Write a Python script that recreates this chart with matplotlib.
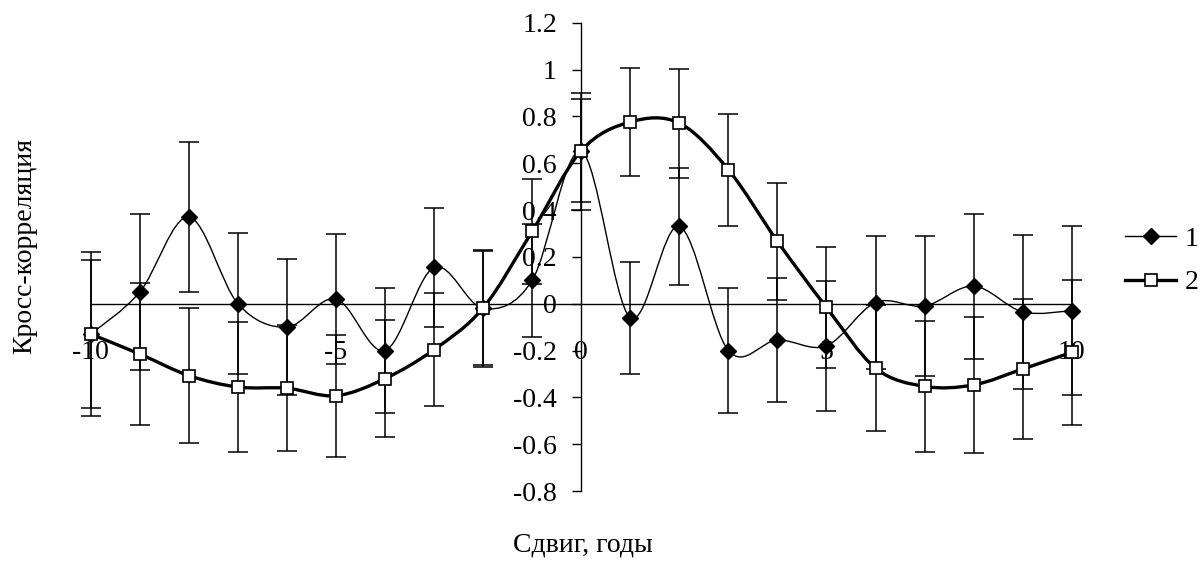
import matplotlib
matplotlib.use("Agg")
import matplotlib.pyplot as plt
import numpy as np
from matplotlib.path import Path
from matplotlib.patches import PathPatch
from matplotlib.lines import Line2D

plt.rcParams['font.family'] = ['Liberation Serif', 'DejaVu Serif']
plt.rcParams['axes.unicode_minus'] = False

# lag, years
lags = list(range(-10, 11))

# series 1 (diamonds, thin line)
corr1 = [-0.13, 0.05, 0.37, 0.0, -0.10, 0.02, -0.20, 0.155, -0.02, 0.10, 0.65,
         -0.06, 0.33, -0.20, -0.155, -0.18, 0.005, -0.01, 0.075, -0.035, -0.03]
err1 = [0.35, 0.335, 0.32, 0.30, 0.29, 0.277, 0.268, 0.255, 0.25, 0.242, 0.25,
        0.24, 0.25, 0.265, 0.265, 0.278, 0.285, 0.30, 0.31, 0.33, 0.36]

# series 2 (squares, thick line)
corr2 = [-0.13, -0.215, -0.307, -0.356, -0.361, -0.393, -0.32, -0.196, -0.018, 0.309, 0.653,
         0.776, 0.771, 0.572, 0.266, -0.016, -0.275, -0.353, -0.347, -0.279, -0.208]
err2 = [0.317, 0.305, 0.29, 0.278, 0.27, 0.26, 0.25, 0.243, 0.245, 0.224, 0.22,
        0.23, 0.233, 0.24, 0.25, 0.26, 0.27, 0.28, 0.29, 0.30, 0.31]

series_names = ['1', '2']
xtick_vals = [-10, -5, 0, 5, 10]
ytick_vals = [-0.8, -0.6, -0.4, -0.2, 0, 0.2, 0.4, 0.6, 0.8, 1, 1.2]
ytick_labels = ['-0.8', '-0.6', '-0.4', '-0.2', '0', '0.2', '0.4', '0.6', '0.8', '1', '1.2']


def smooth_path(xs, ys):
    """Excel-like smoothed line: cubic Bezier segments through every point."""
    p = np.column_stack([xs, ys]).astype(float)
    ext = np.vstack([p[0], p, p[-1]])
    verts = [p[0]]
    codes = [Path.MOVETO]
    for i in range(len(p) - 1):
        p0, p1, p2, p3 = ext[i], ext[i + 1], ext[i + 2], ext[i + 3]
        verts += [p1 + (p2 - p0) / 6, p2 - (p3 - p1) / 6, p2]
        codes += [Path.CURVE4] * 3
    return Path(verts, codes)


fig = plt.figure(figsize=(12.02, 5.64), dpi=100)
ax = fig.add_axes([0.0755, 0.1294, 0.8161, 0.8304])
ax.set_xlim(-10, 10)
ax.set_ylim(-0.8, 1.2)

# error bars
ax.errorbar(lags, corr1, yerr=err1, fmt='none', ecolor='black', elinewidth=1.1,
            capsize=7.5, capthick=1.1, zorder=2, clip_on=False)
ax.errorbar(lags, corr2, yerr=err2, fmt='none', ecolor='black', elinewidth=1.1,
            capsize=7.5, capthick=1.1, zorder=2, clip_on=False)

# smoothed lines
ax.add_patch(PathPatch(smooth_path(lags, corr1), fill=False, lw=1.0,
                       edgecolor='black', zorder=3, clip_on=False))
ax.add_patch(PathPatch(smooth_path(lags, corr2), fill=False, lw=2.4,
                       edgecolor='black', zorder=4, clip_on=False))

# markers
ax.plot(lags, corr1, ls='none', marker='D', ms=8.5, mfc='black', mec='black',
        zorder=5, clip_on=False)
ax.plot(lags, corr2, ls='none', marker='s', ms=8, mfc='white', mec='black',
        mew=1.2, zorder=6, clip_on=False)

# axes crossing at the origin
for s in ['top', 'right']:
    ax.spines[s].set_visible(False)
ax.spines['left'].set_position(('data', 0))
ax.spines['bottom'].set_position(('data', 0))
ax.spines['left'].set_linewidth(1.0)
ax.spines['bottom'].set_linewidth(1.0)

ax.set_yticks(ytick_vals)
ax.set_yticklabels(ytick_labels)
ax.tick_params(axis='y', direction='out', length=6.5, width=1.0, pad=11, labelsize=20)
ax.set_xticks(xtick_vals)
ax.set_xticklabels([str(v) for v in xtick_vals])
ax.tick_params(axis='x', length=0, pad=26, labelsize=20)

fig.text(25 / 1202, 1 - 246 / 564, 'Кросс-корреляция', rotation=90,
         ha='center', va='center', fontsize=20)
fig.text(583 / 1202, 1 - 545 / 564, 'Сдвиг, годы', ha='center', va='center', fontsize=20)

handles = [
    Line2D([], [], color='black', lw=1.0, marker='D', ms=8.5, mfc='black'),
    Line2D([], [], color='black', lw=2.4, marker='s', ms=8, mfc='white', mew=1.2),
]
fig.legend(handles, series_names, loc='center left',
           bbox_to_anchor=(1125 / 1202, 1 - 261 / 564), frameon=False,
           fontsize=20, handlelength=1.85, handletextpad=0.3, labelspacing=0.65,
           borderpad=0, borderaxespad=0)

fig.savefig('out.png', dpi=100)
